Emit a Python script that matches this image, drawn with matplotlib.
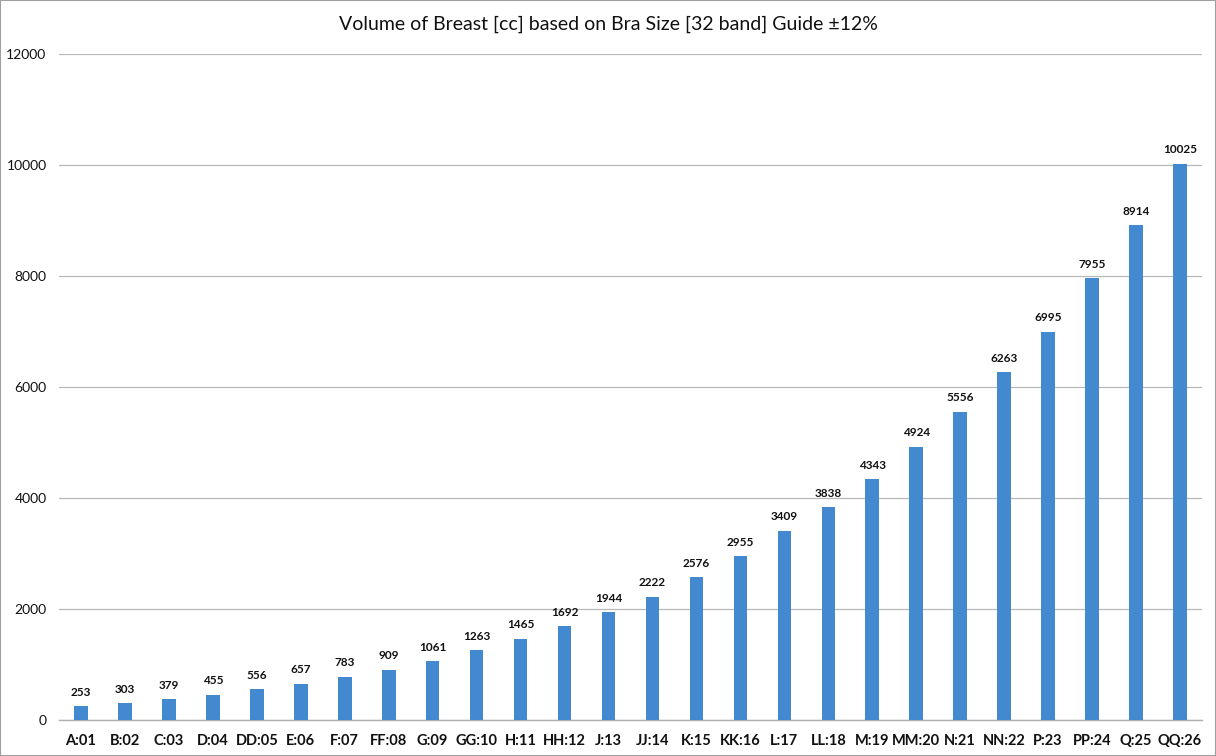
import matplotlib
matplotlib.use("Agg")
import matplotlib.pyplot as plt
from matplotlib.patches import Rectangle

sizes = ["A:01", "B:02", "C:03", "D:04", "DD:05", "E:06", "F:07", "FF:08", "G:09",
         "GG:10", "H:11", "HH:12", "J:13", "JJ:14", "K:15", "KK:16", "L:17", "LL:18",
         "M:19", "MM:20", "N:21", "NN:22", "P:23", "PP:24", "Q:25", "QQ:26"]
volumes = [253, 303, 379, 455, 556, 657, 783, 909, 1061, 1263, 1465, 1692, 1944,
           2222, 2576, 2955, 3409, 3838, 4343, 4924, 5556, 6263, 6995, 7955, 8914, 10025]
y_ticks = [0, 2000, 4000, 6000, 8000, 10000, 12000]

plt.rcParams["font.family"] = ["Lato", "DejaVu Sans"]

fig = plt.figure(figsize=(12.16, 7.56), dpi=100)
ax = fig.add_axes([59 / 1216, 1 - 720 / 756, 1143 / 1216, 666 / 756])

x = range(len(sizes))
ax.bar(x, volumes, width=0.31, color="#4389d0", zorder=3)
for xi, v in zip(x, volumes):
    ax.text(xi, v + 150, str(v), ha="center", va="bottom", fontsize=8.5,
            fontweight="bold", color="#111111")

ax.set_xlim(-0.5, len(sizes) - 0.5)
ax.set_ylim(0, 12000)
ax.set_yticks(y_ticks)
ax.set_yticklabels([str(t) for t in y_ticks])
ax.set_xticks(list(x))
ax.set_xticklabels(sizes, fontweight="bold")
ax.tick_params(axis="both", length=0, colors="#111111")
ax.tick_params(axis="x", pad=10, labelsize=10.5)
ax.tick_params(axis="y", pad=9, labelsize=10)
ax.grid(axis="y", color="#b8b8b8", linewidth=0.9, zorder=0)
for side in ["top", "right", "left"]:
    ax.spines[side].set_visible(False)
ax.spines["bottom"].set_color("#b0b0b0")
ax.spines["bottom"].set_linewidth(1.0)

fig.text(608 / 1216, 1 - 24 / 756, "Volume of Breast [cc] based on Bra Size [32 band] Guide \u00b112%",
         ha="center", va="center", fontsize=14, color="#111111")

fig.patches.append(Rectangle((0, 0), 1, 1, transform=fig.transFigure, fill=False,
                             edgecolor="#a0a0a0", linewidth=1.5))

fig.savefig("out.png", dpi=100)
